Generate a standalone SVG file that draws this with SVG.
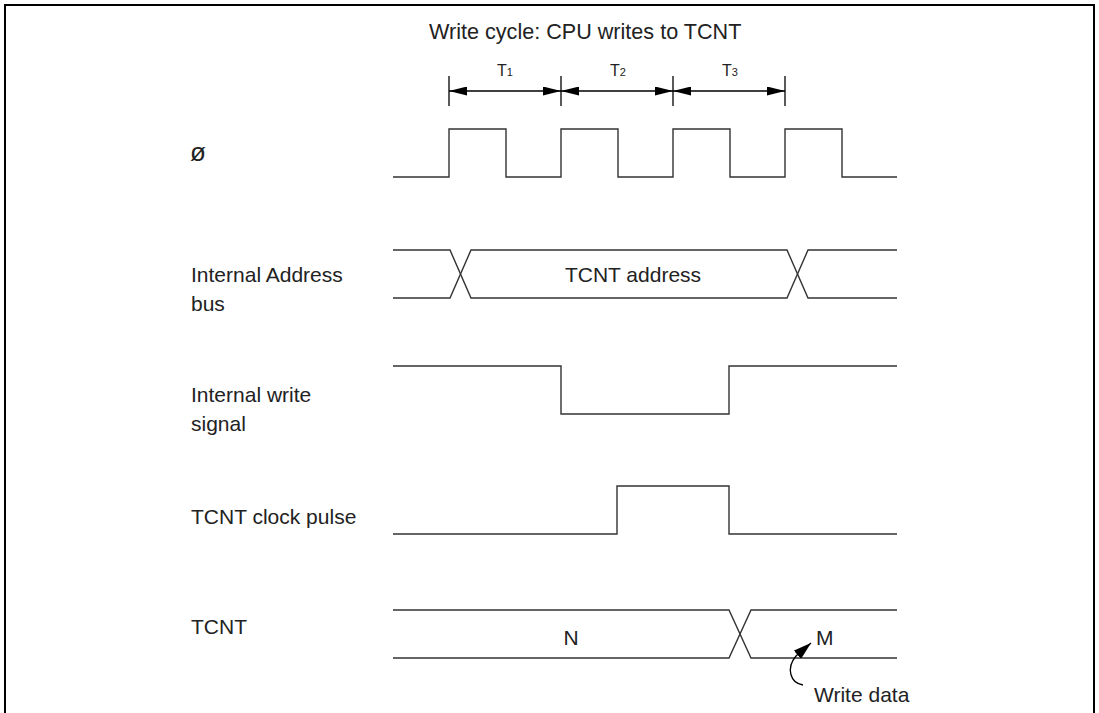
<svg xmlns="http://www.w3.org/2000/svg" width="1099" height="713" viewBox="0 0 1099 713">
<defs>
<marker id="ah" markerWidth="18" markerHeight="9" refX="18" refY="4.5" orient="auto-start-reverse" markerUnits="userSpaceOnUse">
<path d="M0,0 L18,4.5 L0,9 Z" fill="#000"/>
</marker>
<marker id="ah2" markerWidth="18" markerHeight="11" refX="18" refY="5.5" orient="auto" markerUnits="userSpaceOnUse">
<path d="M0,0 L18,5.5 L0,11 Z" fill="#000"/>
</marker>
<style>
.sig{fill:none;stroke:#333;stroke-width:1.4}
.tick{fill:none;stroke:#000;stroke-width:1.3}
.lbl{font-family:"Liberation Sans",Arial,sans-serif;font-size:21px;fill:#222}
.tl{font-family:"Liberation Sans",Arial,sans-serif;font-size:16px;fill:#222}
.sub{font-size:11px}
</style>
</defs>
<rect x="0" y="0" width="1099" height="713" fill="#fff"/>
<rect x="5" y="5" width="1089" height="730" fill="none" stroke="#000" stroke-width="2"/>

<g id="title">
<text class="lbl" x="429" y="39" style="font-size:21.6px">Write cycle: CPU writes to TCNT</text>
</g>

<g id="periods">
<line class="tick" x1="449" y1="76" x2="449" y2="106"/>
<line class="tick" x1="561" y1="76" x2="561" y2="106"/>
<line class="tick" x1="673" y1="76" x2="673" y2="106"/>
<line class="tick" x1="785" y1="76" x2="785" y2="106"/>
<text class="tl" x="505" y="76" text-anchor="middle">T<tspan class="sub">1</tspan></text>
<text class="tl" x="618" y="76" text-anchor="middle">T<tspan class="sub">2</tspan></text>
<text class="tl" x="730" y="76" text-anchor="middle">T<tspan class="sub">3</tspan></text>
</g>

<g id="clock">
<text class="lbl" x="190" y="161" style="font-size:26px">ø</text>
<path class="sig" d="M393,177 H449 V129 H506 V177 H561 V129 H618 V177 H673 V129 H730 V177 H785 V129 H842 V177 H897"/>
</g>

<g id="address-bus">
<text class="lbl" x="191" y="282">Internal Address</text>
<text class="lbl" x="191" y="311">bus</text>
<path class="sig" d="M393,250 H450 L471,298 H787 L808,250 H897"/>
<path class="sig" d="M393,298 H450 L471,250 H787 L808,298 H897"/>
<text class="lbl" x="633" y="282" text-anchor="middle">TCNT address</text>
</g>

<g id="write-signal">
<text class="lbl" x="191" y="402">Internal write</text>
<text class="lbl" x="191" y="431">signal</text>
<path class="sig" d="M393,366 H561 V414 H729 V366 H897"/>
</g>

<g id="clock-pulse">
<text class="lbl" x="191" y="524">TCNT clock pulse</text>
<path class="sig" d="M393,534 H617 V486 H729 V534 H897"/>
</g>

<g id="tcnt">
<text class="lbl" x="191" y="634">TCNT</text>
<path class="sig" d="M393,610 H729 L751,658 H897"/>
<path class="sig" d="M393,658 H729 L751,610 H897"/>
<text class="lbl" x="571" y="645" text-anchor="middle">N</text>
<text class="lbl" x="816" y="645">M</text>
<text class="lbl" x="814" y="702">Write data</text>
</g>

<g id="connectors">
<line class="tick" x1="449" y1="91" x2="561" y2="91" marker-start="url(#ah)" marker-end="url(#ah)"/>
<line class="tick" x1="561" y1="91" x2="673" y2="91" marker-start="url(#ah)" marker-end="url(#ah)"/>
<line class="tick" x1="673" y1="91" x2="785" y2="91" marker-start="url(#ah)" marker-end="url(#ah)"/>
<path class="tick" d="M803,685 C790,683 786,668 796,656 L811,643" marker-end="url(#ah2)"/>
</g>
</svg>
